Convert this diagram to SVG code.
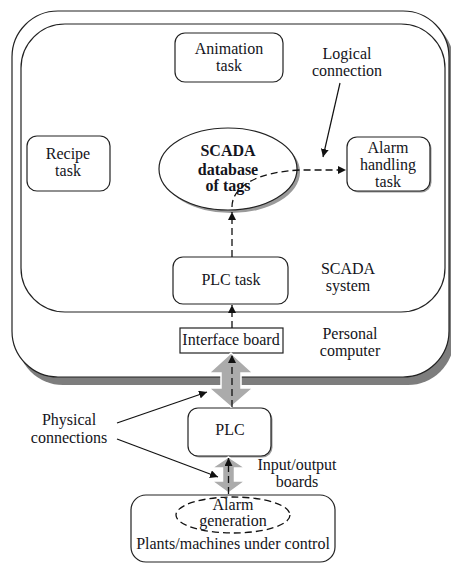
<svg xmlns="http://www.w3.org/2000/svg" width="451" height="563" viewBox="0 0 451 563">
<defs>
<style>
.t{font-family:"Liberation Serif","Times New Roman",serif;font-size:16px;fill:#141420;text-anchor:middle}
.b{font-weight:bold}
.box{fill:#fff;stroke:#222;stroke-width:1.2}
.sh{fill:#9a9a9a}
.ln{fill:none;stroke:#111;stroke-width:1.2}
.dash{fill:none;stroke:#111;stroke-width:1.3;stroke-dasharray:7 4}
.big{fill:#ababab;stroke:#fff;stroke-width:1.5}
</style>
<marker id="ah" viewBox="0 0 10 10" refX="10" refY="5" markerWidth="8" markerHeight="8" markerUnits="userSpaceOnUse" orient="auto">
<path d="M0,0 L10,5 L0,10 z" fill="#111"/>
</marker>
</defs>
<g id="personal-computer">
<rect x="17" y="17" width="437" height="368" rx="46" fill="#7d7d7d"/>
<rect x="12" y="11" width="437" height="366" rx="46" class="box"/>
<text class="t" x="350" y="339">Personal</text>
<text class="t" x="350" y="356">computer</text>
</g>
<g id="scada-system">
<rect x="21" y="24" width="424" height="288" rx="44" class="box"/>
<text class="t" x="348" y="274">SCADA</text>
<text class="t" x="348" y="291">system</text>
</g>
<g id="animation-task">
<rect x="175" y="33" width="108" height="49" rx="10" class="box"/>
<text class="t" x="229" y="54">Animation</text>
<text class="t" x="229" y="71">task</text>
</g>
<g id="recipe-task">
<rect x="27" y="136" width="83" height="55" rx="10" class="box"/>
<text class="t" x="68" y="159">Recipe</text>
<text class="t" x="68" y="176">task</text>
</g>
<g id="alarm-handling-task">
<rect x="348.5" y="138.5" width="83" height="54" rx="10" class="sh"/>
<rect x="347" y="137" width="83" height="54" rx="10" class="box"/>
<text class="t" x="388" y="153">Alarm</text>
<text class="t" x="388" y="170">handling</text>
<text class="t" x="388" y="187">task</text>
</g>
<g id="scada-database">
<ellipse cx="231" cy="172" rx="69" ry="41" class="sh"/>
<ellipse cx="228" cy="169" rx="69" ry="41" class="box"/>
<text class="t b" x="228" y="156">SCADA</text>
<text class="t b" x="228" y="175">database</text>
<text class="t b" x="228" y="191">of tags</text>
</g>
<g id="logical-connection-label">
<text class="t" x="347" y="59">Logical</text>
<text class="t" x="347" y="76">connection</text>
</g>
<g id="plc-task">
<rect x="173" y="257" width="115" height="47" rx="10" class="box"/>
<text class="t" x="231" y="285">PLC task</text>
</g>
<g id="interface-board">
<rect x="180" y="328" width="103" height="25" class="box"/>
<text class="t" x="231" y="345">Interface board</text>
</g>
<g id="plc">
<rect x="189.5" y="409.5" width="83" height="48" rx="10" class="sh"/>
<rect x="188" y="408" width="83" height="48" rx="10" class="box"/>
<text class="t" x="230" y="435">PLC</text>
</g>
<g id="physical-connections-label">
<text class="t" x="69" y="425">Physical</text>
<text class="t" x="69" y="443">connections</text>
</g>
<g id="io-boards-label">
<text class="t" x="297" y="470">Input/output</text>
<text class="t" x="297" y="487">boards</text>
</g>
<g id="plants">
<rect x="131" y="495" width="204" height="67" rx="15" class="box"/>
<ellipse cx="233" cy="515" rx="57" ry="18" class="dash" stroke-width="1.1"/>
<text class="t" x="233" y="510">Alarm</text>
<text class="t" x="233" y="526">generation</text>
<text class="t" x="233" y="549">Plants/machines under control</text>
</g>
<g id="connectors">
<polygon class="big" points="231,353 253,373 241,373 241,388 253,388 231,407 209,388 221,388 221,373 209,373"/>
<polygon class="big" points="228.5,457 245,468 234.5,468 234.5,481 245,481 228.5,493 212,481 222.5,481 222.5,468 212,468"/>
<line class="dash" x1="232" y1="407" x2="232" y2="355" marker-end="url(#ah)"/>
<line class="dash" x1="228.5" y1="494" x2="228.5" y2="458" marker-end="url(#ah)"/>
<line class="dash" x1="232" y1="328" x2="232" y2="305" marker-end="url(#ah)"/>
<line class="dash" x1="232" y1="257" x2="232" y2="212" marker-end="url(#ah)"/>
<path class="dash" d="M232,207 C232,186 258,172 300,170 L346,170" marker-end="url(#ah)"/>
<line class="ln" x1="340" y1="83" x2="323" y2="157" marker-end="url(#ah)"/>
<line class="ln" x1="117" y1="423" x2="207" y2="392" marker-end="url(#ah)"/>
<line class="ln" x1="117" y1="439" x2="218" y2="477" marker-end="url(#ah)"/>
</g>
</svg>
